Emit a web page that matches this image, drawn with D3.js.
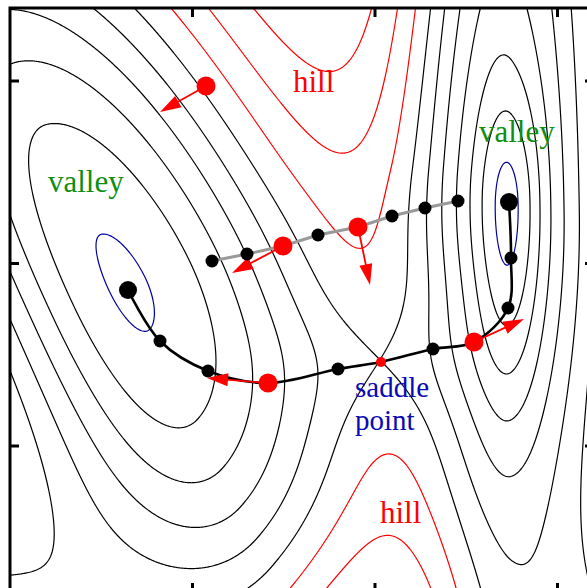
<!DOCTYPE html>
<html>
<head>
<meta charset="utf-8">
<script src="https://cdn.jsdelivr.net/npm/d3@7"></script>
<style>
  html, body { margin: 0; padding: 0; background: #fff; }
  svg { display: block; }
  text { font-family: "Liberation Serif", "Times New Roman", serif; }
</style>
</head>
<body>
<svg id="chart" width="587" height="588"></svg>
<script>
// ---- Energy surface: a plateau carved by valleys and raised by hills ----
// Each term is a Gaussian with separate widths on either side of its long axis.
const plateau = 10;
const termName      = ["left valley", "upper left basin", "right valley", "right valley core", "right valley flank", "lower right valley", "lower left valley", "pass", "lower hill", "right rim"];
const termX         = [0.6466, -0.7123, 2.7452, 2.7397, 2.3452, 2.9041, -0.3836, 2.0329, 2.0932, 3.8904];
const termY         = [1.6822, 2.5863, 2.0822, 2.1205, 2.3123, -0.9205, -0.5918, 1.2658, -0.5918, -0.3178];
const termDepth     = [-10.3, -0.7, -8.5, -2.25, -1.8, -4.0, -6.8, -0.75, 3.4, -1.5];
const termAngle     = [-63, 0, -90, -90, -90, -90, 0, 0, -90, 0];
const termAlongNeg  = [1.8904, 0.7123, 3.2877, 0.4384, 1.3699, 0.8219, 0.8219, 0.3288, 0.8219, 0.8219];
const termAlongPos  = [1.6986, 0.7123, 1.5890, 0.7123, 0.6027, 0.8219, 0.8219, 0.3288, 0.8219, 0.8219];
const termAcrossNeg = [0.6301, 0.7123, 0.3507, 0.1205, 0.4384, 0.4932, 0.8219, 0.2466, 0.6027, 0.8219];
const termAcrossPos = [0.7781, 0.7123, 0.4658, 0.1205, 0.2740, 1.0959, 0.8219, 0.2466, 0.6027, 0.8219];

// Contour levels (relative to the saddle, which sits on level 5; higher levels belong to the hills)
const contourLevels = [-1, 0, 1, 2, 3, 4, 5, 6, 7, 8, 9];
const saddleLevel = 5;

// ---- Converged minimum energy path ----
const pathX    = [0.6466, 0.8219, 1.0849, 1.4137, 1.7973, 2.0329, 2.3178, 2.5425, 2.7288, 2.7452, 2.7342];
const pathY    = [1.6548, 1.3753, 1.2110, 1.1452, 1.2219, 1.2603, 1.3315, 1.3699, 1.5562, 1.8301, 2.1370];
const pathKind = ["minimum", "image", "image", "force", "image", "saddle", "image", "force", "image", "image", "minimum"];

// ---- Initial straight band ----
const bandX    = [1.1068, 1.2986, 1.4959, 1.6877, 1.9068, 2.0932, 2.2740, 2.4548];
const bandY    = [1.8137, 1.8521, 1.8959, 1.9562, 2.0000, 2.0603, 2.1041, 2.1425];
const bandKind = ["image", "image", "force", "image", "force", "image", "image", "image"];

// ---- Single image on the hillside ----
const loneX = [1.0740];
const loneY = [2.7726];

// ---- Forces acting on the red images ----
const forceFromX = [1.0740, 1.4959, 1.9068, 1.4137, 2.5425];
const forceFromY = [2.7726, 1.8959, 2.0000, 1.1452, 1.3699];
const forceDX    = [-0.252, -0.279, 0.066, -0.334, 0.274];
const forceDY    = [-0.142, -0.148, -0.318, 0.027, 0.126];

// ---- Annotations ----
const labelLines = [["hill"], ["valley"], ["valley"], ["saddle", "point"], ["hill"]];
const labelX     = [1.5507, 0.2082, 2.5699, 1.8904, 2.0274];
const labelY     = [2.7397, 2.1918, 2.4658, 1.0685, 0.3781];
const labelKind  = ["hill", "valley", "valley", "saddle", "hill"];
const labelSize  = [31, 31, 31, 29, 31];

// ---- Axis ticks (unlabelled) ----
const xTicks = [1, 2, 3];
const yTicks = [0.8, 1.8, 2.8];

// ================= drawing =================
const W = 587, H = 588;
const frame = { left: 10, top: 8, right: 594, bottom: 592 };
const x = d3.scaleLinear().domain([0, 3.2]).range([frame.left, frame.right]);
const y = d3.scaleLinear().domain([0, 3.2]).range([frame.bottom, frame.top]);

const RED = "#ff0000", BLUE = "#0000a0", GREEN = "#0f8f0f", BLACK = "#000000", GREY = "#999999";
const labelColor = { hill: RED, valley: GREEN, saddle: "#0a0ab4" };

function energy(px, py) {
  let v = plateau;
  for (let k = 0; k < termDepth.length; k++) {
    const dx = px - termX[k], dy = py - termY[k];
    const a = termAngle[k] * Math.PI / 180;
    const c = Math.cos(a), s = Math.sin(a);
    const u = dx * c + dy * s;
    const w = -dx * s + dy * c;
    const su = u < 0 ? termAlongNeg[k] : termAlongPos[k];
    const sw = w < 0 ? termAcrossNeg[k] : termAcrossPos[k];
    v += termDepth[k] * Math.exp(-0.5 * (u * u / (su * su) + w * w / (sw * sw)));
  }
  return v;
}

// locate the saddle of the surface next to the saddle image (Newton steps on the gradient)
function locateSaddle(sx, sy) {
  const h = 1e-3;
  for (let it = 0; it < 40; it++) {
    const f0 = energy(sx, sy);
    const fx = (energy(sx + h, sy) - energy(sx - h, sy)) / (2 * h);
    const fy = (energy(sx, sy + h) - energy(sx, sy - h)) / (2 * h);
    const fxx = (energy(sx + h, sy) - 2 * f0 + energy(sx - h, sy)) / (h * h);
    const fyy = (energy(sx, sy + h) - 2 * f0 + energy(sx, sy - h)) / (h * h);
    const fxy = (energy(sx + h, sy + h) - energy(sx + h, sy - h) - energy(sx - h, sy + h) + energy(sx - h, sy - h)) / (4 * h * h);
    const det = fxx * fyy - fxy * fxy;
    if (Math.abs(det) < 1e-9) break;
    let stepX = -(fyy * fx - fxy * fy) / det;
    let stepY = -(fxx * fy - fxy * fx) / det;
    const len = Math.hypot(stepX, stepY);
    if (len > 0.05) { stepX *= 0.05 / len; stepY *= 0.05 / len; }
    sx += stepX; sy += stepY;
    if (len < 1e-7) break;
  }
  return [sx, sy];
}
const saddleIndex = pathKind.indexOf("saddle");
const saddleAt = locateSaddle(pathX[saddleIndex], pathY[saddleIndex]);
const levelOffset = energy(saddleAt[0], saddleAt[1]) - saddleLevel;

const svg = d3.select("#chart");
svg.append("rect").attr("width", W).attr("height", H).attr("fill", "#fff");

svg.append("clipPath").attr("id", "plotArea")
  .append("rect")
  .attr("x", frame.left).attr("y", frame.top)
  .attr("width", frame.right - frame.left).attr("height", frame.bottom - frame.top);

// sample the surface on a pixel grid
const nx = 604, ny = 604;
const values = new Float64Array(nx * ny);
for (let j = 0; j < ny; j++) {
  const gy = y.invert(j + 0.5);
  for (let i = 0; i < nx; i++) {
    values[j * nx + i] = energy(x.invert(i + 0.5), gy);
  }
}
const contourSets = d3.contours().size([nx, ny])
  .thresholds(contourLevels.map(k => k + levelOffset))(values);

const leftMin = [x(pathX[0]), y(pathY[0])];
const rightMin = [x(pathX[pathX.length - 1]), y(pathY[pathY.length - 1])];

function ringColor(level, ring) {
  if (level < 0) return BLUE;
  if (level === 0 && d3.polygonContains(ring, leftMin) && !d3.polygonContains(ring, rightMin)) return BLUE;
  return level > saddleLevel ? RED : BLACK;
}

const gContours = svg.append("g").attr("clip-path", "url(#plotArea)").attr("fill", "none");
contourSets.forEach((set, li) => {
  const level = contourLevels[li];
  set.coordinates.forEach(polygon => {
    polygon.forEach(ring => {
      gContours.append("path")
        .attr("d", "M" + ring.map(p => p[0].toFixed(2) + "," + p[1].toFixed(2)).join("L") + "Z")
        .attr("stroke", ringColor(level, ring))
        .attr("stroke-width", 1.2)
        .attr("stroke-linejoin", "round");
    });
  });
});

// frame and ticks
const gAxes = svg.append("g").attr("stroke", BLACK).attr("stroke-width", 3).attr("fill", "none");
gAxes.append("rect")
  .attr("x", frame.left).attr("y", frame.top)
  .attr("width", frame.right - frame.left).attr("height", frame.bottom - frame.top);
const tickLen = 9;
xTicks.forEach(t => {
  gAxes.append("line").attr("x1", x(t)).attr("x2", x(t)).attr("y1", frame.top).attr("y2", frame.top + tickLen);
  gAxes.append("line").attr("x1", x(t)).attr("x2", x(t)).attr("y1", frame.bottom).attr("y2", frame.bottom - tickLen);
});
yTicks.forEach(t => {
  gAxes.append("line").attr("y1", y(t)).attr("y2", y(t)).attr("x1", frame.left).attr("x2", frame.left + tickLen);
  gAxes.append("line").attr("y1", y(t)).attr("y2", y(t)).attr("x1", frame.right).attr("x2", frame.right - tickLen);
});

const gMarks = svg.append("g").attr("clip-path", "url(#plotArea)");

// initial band (grey straight line)
const straight = d3.line().x(d => x(d[0])).y(d => y(d[1]));
gMarks.append("path")
  .attr("d", straight(bandX.map((v, i) => [v, bandY[i]])))
  .attr("fill", "none").attr("stroke", GREY).attr("stroke-width", 3);

// converged path (black smooth line)
const smooth = d3.line().x(d => x(d[0])).y(d => y(d[1])).curve(d3.curveCatmullRom.alpha(0.5));
gMarks.append("path")
  .attr("d", smooth(pathX.map((v, i) => [v, pathY[i]])))
  .attr("fill", "none").attr("stroke", BLACK).attr("stroke-width", 2.6);

// force arrows
const headLen = 21, headHalf = 6.5;
forceDX.forEach((fx, i) => {
  const x0 = x(forceFromX[i]), y0 = y(forceFromY[i]);
  const x1 = x(forceFromX[i] + fx), y1 = y(forceFromY[i] + forceDY[i]);
  const len = Math.hypot(x1 - x0, y1 - y0);
  const ux = (x1 - x0) / len, uy = (y1 - y0) / len;
  const bx = x1 - ux * headLen, by = y1 - uy * headLen;
  gMarks.append("line")
    .attr("x1", x0).attr("y1", y0).attr("x2", bx + ux * 2).attr("y2", by + uy * 2)
    .attr("stroke", RED).attr("stroke-width", 1.8);
  gMarks.append("path")
    .attr("d", `M${x1},${y1}L${bx - uy * headHalf},${by + ux * headHalf}L${bx + uy * headHalf},${by - ux * headHalf}Z`)
    .attr("fill", RED);
});

// images
function dotStyle(kind) {
  if (kind === "minimum") return { r: 9, fill: BLACK };
  if (kind === "force") return { r: 9.5, fill: RED };
  if (kind === "saddle") return { r: 5, fill: RED };
  return { r: 6.5, fill: BLACK };
}
function drawDots(xs, ys, kinds) {
  xs.forEach((v, i) => {
    const st = dotStyle(kinds[i]);
    gMarks.append("circle").attr("cx", x(v)).attr("cy", y(ys[i])).attr("r", st.r).attr("fill", st.fill);
  });
}
drawDots(bandX, bandY, bandKind);
drawDots(pathX, pathY, pathKind);
drawDots(loneX, loneY, loneX.map(() => "force"));

// annotations
labelLines.forEach((lines, i) => {
  const t = svg.append("text")
    .attr("x", x(labelX[i])).attr("y", y(labelY[i]))
    .attr("font-size", labelSize[i])
    .attr("fill", labelColor[labelKind[i]]);
  lines.forEach((line, j) => {
    t.append("tspan").attr("x", x(labelX[i])).attr("dy", j === 0 ? 0 : 33).text(line);
  });
});
</script>
</body>
</html>
